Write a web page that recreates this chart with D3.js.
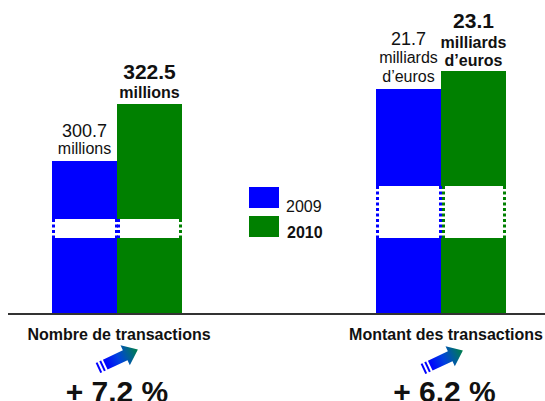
<!DOCTYPE html>
<html>
<head>
<meta charset="utf-8">
<script src="https://cdn.jsdelivr.net/npm/d3@7/dist/d3.min.js"></script>
<style>
  html, body { margin: 0; background: #fff; overflow: hidden; }
  text { font-family: "Liberation Sans", Arial, sans-serif; fill: #111; }
</style>
</head>
<body>
<div id="wrapper"></div>
<script>
// DATA
const categories = ["Nombre de transactions", "Montant des transactions"]
const years = ["2009", "2010"]
const values2009 = [300.7, 21.7]
const values2010 = [322.5, 23.1]
// the value axis is cut, bars do not start at zero
const axisFloors = [242.2, 4.2]
const axisCeils = [322.5, 23.1]
const labels2009 = [["300.7", "millions"], ["21.7", "milliards", "d’euros"]]
const labels2010 = [["322.5", "millions"], ["23.1", "milliards", "d’euros"]]
const growth = ["+ 7.2 %", "+ 6.2 %"]

const colors = { "2009": "#0000ff", "2010": "#008000" }

// Dimensions
const dimensions = { width: 545, height: 401, baseline: 314 }

const wrapper = d3.select("#wrapper")
  .append("svg")
  .attr("width", dimensions.width)
  .attr("height", dimensions.height)
  .style("display", "block")

// arrow gradient
const defs = wrapper.append("defs")
const gradient = defs.append("linearGradient").attr("id", "arrowFill")
gradient.append("stop").attr("offset", "0%").attr("stop-color", "#0000ff")
gradient.append("stop").attr("offset", "40%").attr("stop-color", "#0040e0")
gradient.append("stop").attr("offset", "100%").attr("stop-color", "#008048")

// SCALES
const xGroup = d3.scalePoint().domain(categories).range([117, 441])
const xYear = d3.scaleBand().domain(years).range([-65, 65])
// one value scale per group, the top of each range comes from the tallest bar
const groupTops = [104, 71]
const yScales = categories.map((c, i) => d3.scaleLinear()
  .domain([axisFloors[i], axisCeils[i]])
  .range([dimensions.baseline, groupTops[i]]))

// where the white axis break sits in each group
const breakBands = [[219, 238], [186, 238]]

// label baselines above the bar top, last line first
const labelOffsets = [
  { "2009": [7, 24], "2010": [6, 25] },
  { "2009": [7, 26, 44], "2010": [5, 23, 43] }
]

categories.forEach((category, i) => {
  const g = wrapper.append("g").attr("transform", `translate(${xGroup(category)},0)`)
  const y = yScales[i]
  const rows = [
    { year: "2009", value: values2009[i], label: labels2009[i] },
    { year: "2010", value: values2010[i], label: labels2010[i] }
  ]

  g.selectAll("rect.bar")
    .data(rows)
    .join("rect")
    .attr("class", "bar")
    .attr("x", d => xYear(d.year))
    .attr("width", xYear.bandwidth())
    .attr("y", d => y(d.value))
    .attr("height", d => dimensions.baseline - y(d.value))
    .attr("fill", d => colors[d.year])

  // white break across the bars
  const [b0, b1] = breakBands[i]
  g.append("rect")
    .attr("x", xYear("2009") - 2)
    .attr("width", 2 * xYear.bandwidth() + 4)
    .attr("y", b0)
    .attr("height", b1 - b0)
    .attr("fill", "#fff")

  // dotted edges of the break
  const edges = [
    { x: xYear("2009") + 1.5, year: "2009" },
    { x: xYear("2010") - 0.5, year: "2009" },
    { x: xYear("2010") + (i === 0 ? 1.5 : 2.5), year: i === 0 ? "2009" : "2010" },
    { x: xYear("2010") + xYear.bandwidth() - 1.5, year: "2010" }
  ]
  g.selectAll("line.edge")
    .data(edges)
    .join("line")
    .attr("class", "edge")
    .attr("x1", d => d.x).attr("x2", d => d.x)
    .attr("y1", b0).attr("y2", b1)
    .attr("stroke", d => colors[d.year])
    .attr("stroke-width", 3)
    .attr("stroke-dasharray", "3 2.5")

  // value labels above the bars
  rows.forEach(r => {
    const bold = r.year === "2010"
    const cx = xYear(r.year) + xYear.bandwidth() / 2
    r.label.slice().reverse().forEach((line, k) => {
      const isValue = k === r.label.length - 1
      g.append("text")
        .attr("x", cx)
        .attr("y", y(r.value) - labelOffsets[i][r.year][k])
        .attr("text-anchor", "middle")
        .attr("font-weight", bold ? "bold" : "normal")
        .attr("font-size", isValue ? (bold ? 21 : 18) : 16)
        .text(line)
    })
  })
})

// axis line
wrapper.append("line")
  .attr("x1", 8).attr("x2", dimensions.width)
  .attr("y1", dimensions.baseline).attr("y2", dimensions.baseline)
  .attr("stroke", "#333")
  .attr("stroke-width", 2)

// LEGEND
const legend = wrapper.append("g")
const legendY = d3.scalePoint().domain(years).range([187, 216])
legend.selectAll("rect")
  .data(years)
  .join("rect")
  .attr("x", 249).attr("y", d => legendY(d))
  .attr("width", 30).attr("height", 21)
  .attr("fill", d => colors[d])
legend.selectAll("text")
  .data(years)
  .join("text")
  .attr("x", d => d === "2009" ? 286 : 287)
  .attr("y", d => d === "2009" ? 212 : 238)
  .attr("font-size", 16)
  .attr("font-weight", d => d === "2010" ? "bold" : "normal")
  .text(d => d)

// FOOTER: category name, arrow, growth
const footerX = [119, 446]
const growthX = [117, 444.5]
const arrowPos = [[98, 368], [423, 369]]
categories.forEach((category, i) => {
  wrapper.append("text")
    .attr("x", footerX[i]).attr("y", 340)
    .attr("text-anchor", "middle")
    .attr("font-weight", "bold")
    .attr("font-size", 16)
    .text(category)

  const a = wrapper.append("g")
    .attr("transform", `translate(${arrowPos[i][0]},${arrowPos[i][1]}) rotate(-25)`)
  a.append("path")
    .attr("d", "M8,-5.5 L30,-5.5 L30,-11 L44,0 L30,11 L30,5.5 L8,5.5 Z")
    .attr("fill", "url(#arrowFill)")
  a.append("rect").attr("x", 0).attr("y", -5.5).attr("width", 2).attr("height", 11).attr("fill", "#0000ff")
  a.append("rect").attr("x", 4).attr("y", -5.5).attr("width", 2).attr("height", 11).attr("fill", "#0000ff")

  // sits on the bottom edge like in the source picture
  wrapper.append("text")
    .attr("x", growthX[i]).attr("y", 402)
    .attr("text-anchor", "middle")
    .attr("font-weight", "bold")
    .attr("font-size", 30)
    .text(growth[i])
})
</script>
</body>
</html>
